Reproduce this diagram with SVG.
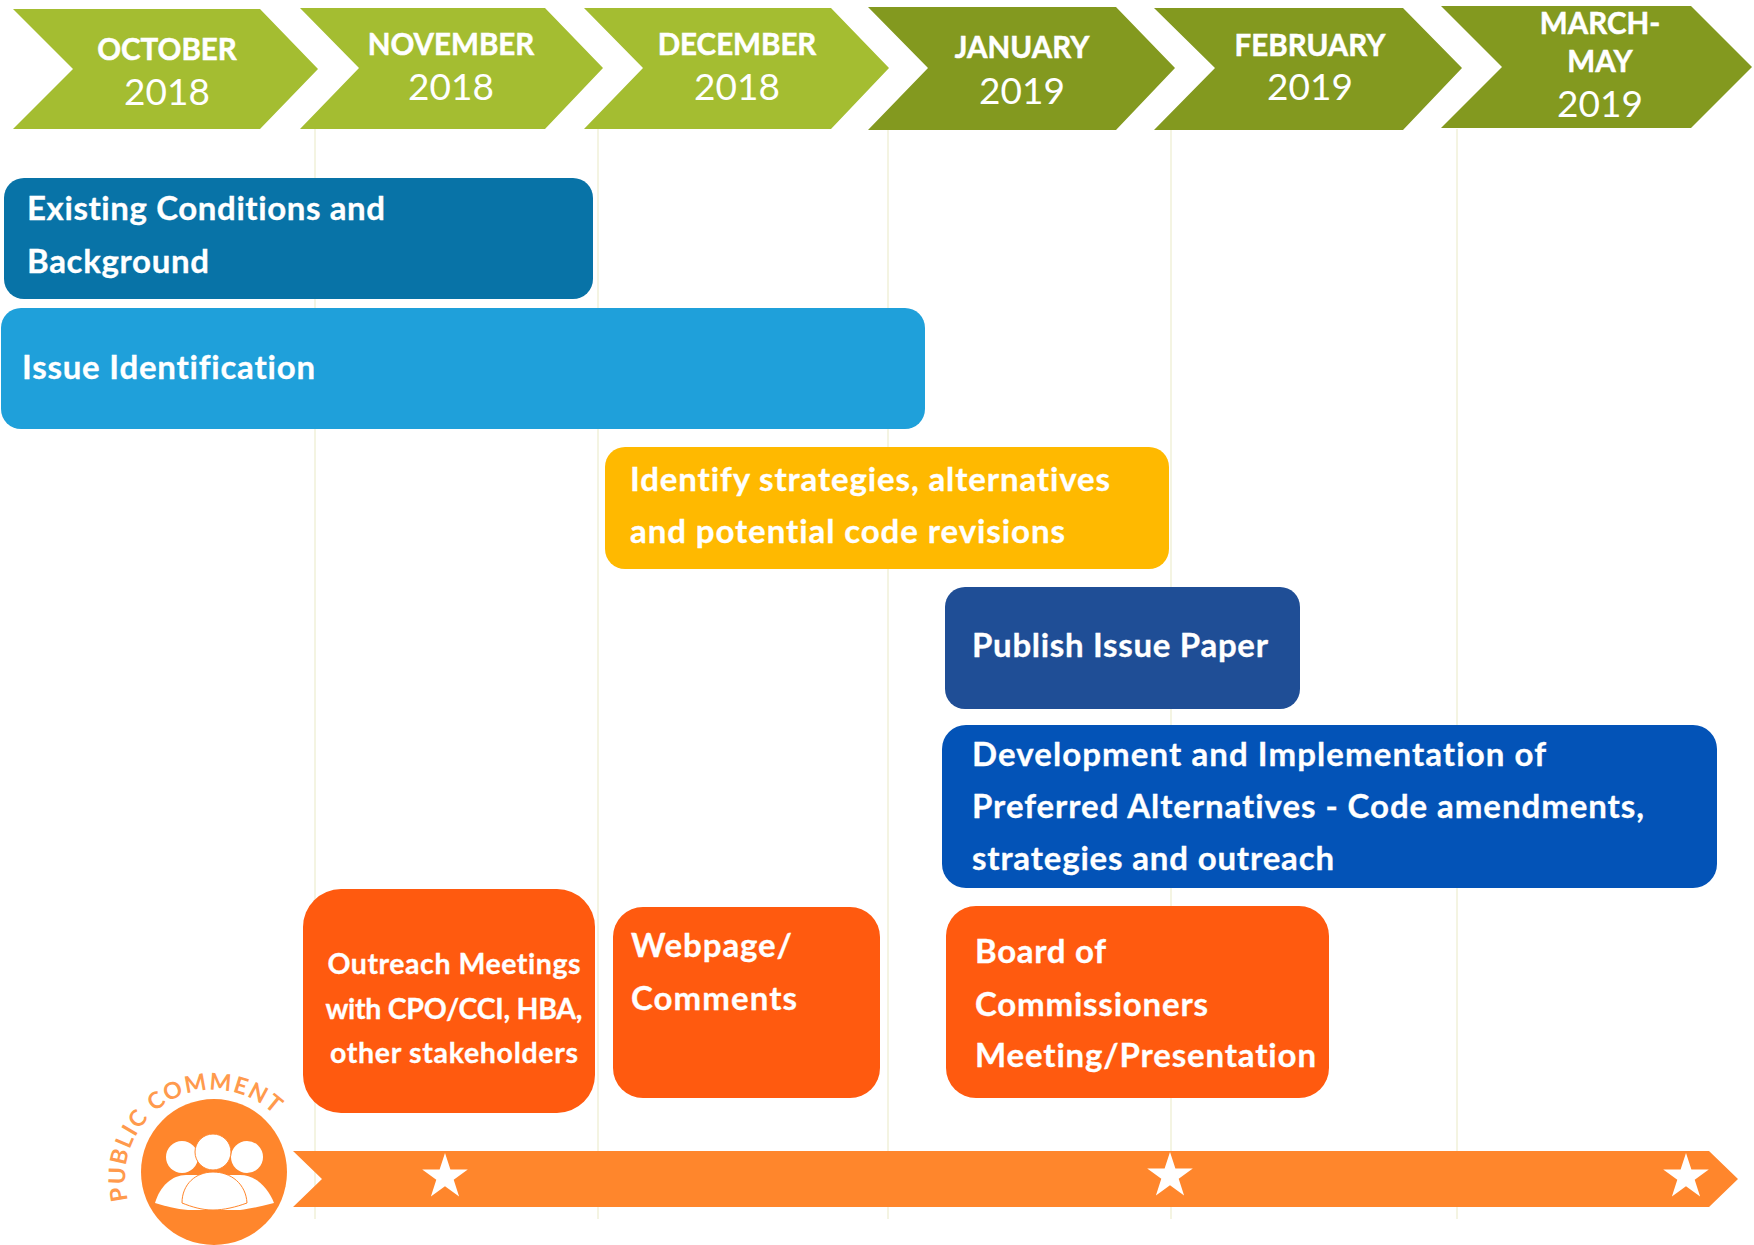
<svg xmlns="http://www.w3.org/2000/svg" width="1754" height="1245" viewBox="0 0 1754 1245">
<style>
text{font-family:"Lato","Open Sans","Liberation Sans",sans-serif;fill:#fff;font-variant-ligatures:none}
.m{font-weight:700;font-size:29.5px;text-anchor:middle;stroke:#fff;stroke-width:.5px}
.y{font-weight:400;font-size:37px;text-anchor:middle}
.b{font-weight:700;font-size:33px;stroke:#fff;stroke-width:.3px}
.o{font-weight:700;font-size:28.5px;text-anchor:middle;stroke:#fff;stroke-width:.3px}
.lg{fill:#a4bd31}.dg{fill:#83991f}
.or{fill:#ff5a0f}.ac{fill:#ff862c}
.star{fill:#fff}
</style>
<defs><polygon id="star" class="star" points="0,-24 5.4,-7.4 22.8,-7.4 8.7,2.8 14.1,19.4 0,9.2 -14.1,19.4 -8.7,2.8 -22.8,-7.4 -5.4,-7.4"/></defs>
<rect width="1754" height="1245" fill="#fff"/>
<g id="gridlines" stroke="#f4f4e2" stroke-width="2" fill="none">
<path d="M315 129V1219M598 129V1219M888 129V1219M1171 129V1219M1457 129V1219"/>
</g>
<g id="oct"><polygon class="lg" points="13,9 260,9 318,69 260,129 13,129 73,69"/><text class="m" x="167" y="60">OCTOBER</text><text class="y" x="167" y="105">2018</text></g>
<g id="nov"><polygon class="lg" points="300,8 545,8 603,68 545,129 300,129 359,68"/><text class="m" x="451" y="55">NOVEMBER</text><text class="y" x="451" y="100">2018</text></g>
<g id="dec"><polygon class="lg" points="584,8 831,8 889,68 831,129 584,129 643,68"/><text class="m" x="737" y="55">DECEMBER</text><text class="y" x="737" y="100">2018</text></g>
<g id="jan"><polygon class="dg" points="868,7 1116,7 1175,68 1116,130 868,130 928,68"/><text class="m" x="1022" y="58">JANUARY</text><text class="y" x="1022" y="104">2019</text></g>
<g id="feb"><polygon class="dg" points="1154,8 1403,8 1462,68 1403,130 1154,130 1215,68"/><text class="m" x="1310" y="56">FEBRUARY</text><text class="y" x="1310" y="100">2019</text></g>
<g id="mar"><polygon class="dg" points="1441,6 1691,6 1752,67 1691,128 1441,128 1502,67"/><text class="m" x="1600" y="34">MARCH-</text><text class="m" x="1600" y="72">MAY</text><text class="y" x="1600" y="117">2019</text></g>
<g id="existing"><rect x="4" y="178" width="589" height="121" rx="20" fill="#0873a7"/><text class="b" x="27" y="220" textLength="358">Existing Conditions and</text><text class="b" x="27" y="273" textLength="182">Background</text></g>
<g id="issue"><rect x="1" y="308" width="924" height="121" rx="20" fill="#1fa0da"/><text class="b" x="22" y="379" textLength="293">Issue Identification</text></g>
<g id="identify"><rect x="605" y="447" width="564" height="122" rx="20" fill="#ffb900"/><text class="b" x="630" y="491" textLength="480">Identify strategies, alternatives</text><text class="b" x="630" y="543" textLength="435">and potential code revisions</text></g>
<g id="publish"><rect x="945" y="587" width="355" height="122" rx="20" fill="#1f4e96"/><text class="b" x="972" y="657" textLength="296">Publish Issue Paper</text></g>
<g id="development"><rect x="942" y="725" width="775" height="163" rx="24" fill="#0353b7"/><text class="b" x="972" y="766" textLength="574">Development and Implementation of</text><text class="b" x="972" y="818" textLength="672">Preferred Alternatives - Code amendments,</text><text class="b" x="972" y="870" textLength="362">strategies and outreach</text></g>
<g id="outreach"><rect class="or" x="303" y="889" width="292" height="224" rx="38"/><text class="o" x="454" y="974" textLength="253">Outreach Meetings</text><text class="o" x="454" y="1019" textLength="257">with CPO/CCI, HBA,</text><text class="o" x="454" y="1063" textLength="248">other stakeholders</text></g>
<g id="webpage"><rect class="or" x="613" y="907" width="267" height="191" rx="30"/><text class="b" x="631" y="957" textLength="161">Webpage/</text><text class="b" x="631" y="1010" textLength="166">Comments</text></g>
<g id="board"><rect class="or" x="946" y="906" width="383" height="192" rx="30"/><text class="b" x="975" y="963" textLength="131">Board of</text><text class="b" x="975" y="1016" textLength="233">Commissioners</text><text class="b" x="975" y="1067" textLength="341">Meeting/Presentation</text></g>
<g id="comment-bar"><polygon class="ac" points="293,1151 1709,1151 1738,1179 1709,1207 293,1207 322,1179"/><use href="#star" x="445" y="1177"/><use href="#star" x="1170" y="1176"/><use href="#star" x="1686" y="1177"/></g>
<g id="public-comment">
<circle class="ac" cx="214" cy="1172" r="73"/>
<defs><path id="arc" d="M128 1200A88 88 0 0 1 285 1127"/></defs>
<text font-size="23" font-weight="700" style="fill:#ff9a4d;letter-spacing:1.5px"><textPath href="#arc">PUBLIC COMMENT</textPath></text>
<circle cx="182" cy="1157" r="16" fill="#fff"/><circle cx="247" cy="1157" r="16" fill="#fff"/>
<path d="M155 1203C160 1186 172 1175 186 1175L240 1175C256 1175 268 1188 274 1203C262 1206 250 1209 240 1210L188 1210C176 1209 165 1206 155 1203Z" fill="#fff"/>
<circle cx="213" cy="1152" r="18" fill="#fff" stroke="#ff862c" stroke-width="1"/>
<path d="M182 1203C182 1184 196 1172 213 1172C231 1172 246 1184 247 1203C236 1207 224 1210 213 1210C202 1210 192 1207 182 1203Z" fill="#fff" stroke="#ff862c" stroke-width="1"/>
</g>
</svg>
